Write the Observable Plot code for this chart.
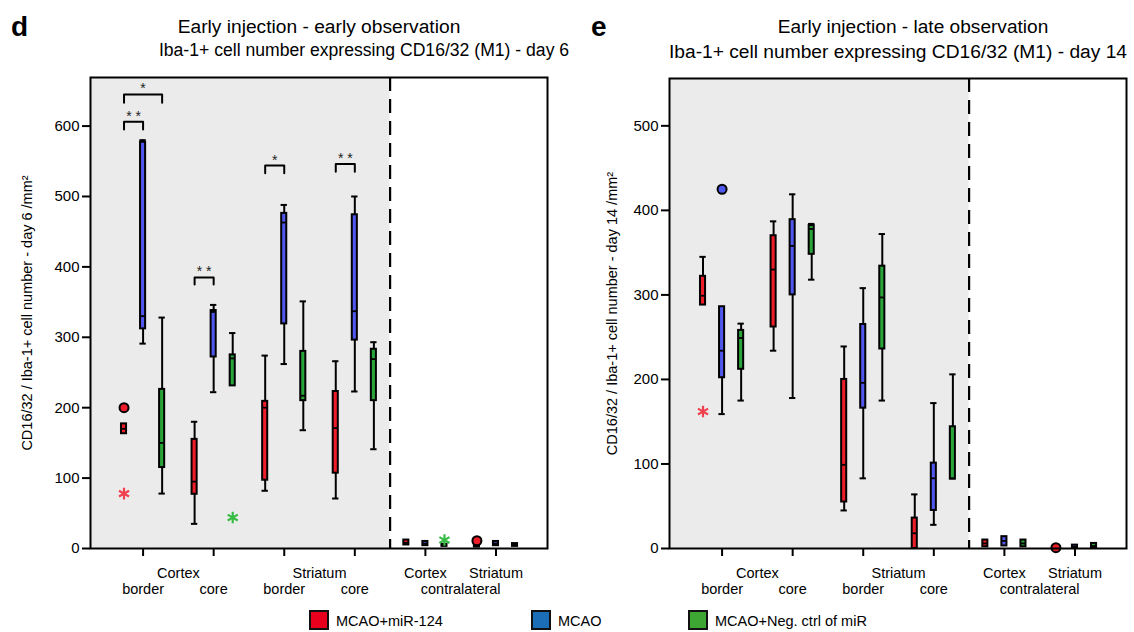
<!DOCTYPE html>
<html><head><meta charset="utf-8">
<script src="https://cdn.jsdelivr.net/npm/d3@7"></script>
<script src="https://cdn.jsdelivr.net/npm/@observablehq/plot@0.6"></script>
<style>
body{margin:0;background:#fff;font-family:"Liberation Sans",Arial,sans-serif;color:#000;}
#root{position:relative;width:1134px;height:632px;overflow:hidden;}
.abs{position:absolute;white-space:nowrap;line-height:1;}
.c{transform:translateX(-50%);}
.sw{position:absolute;width:16px;height:16px;border:2px solid #111;}
</style></head><body><div id="root"></div>
<script>
// ---------- data ----------
const groups = ["Cortex border","Cortex core","Striatum border","Striatum core","Cortex contralateral","Striatum contralateral"];
const treatments = ["MCAO+miR-124","MCAO","MCAO+Neg. ctrl of miR"];

// [group, treatment, whiskerLow, q1, median, q3, whiskerHigh]
const day6Boxes = [
  ["Cortex border","MCAO+miR-124", null,163,170,177,null],
  ["Cortex border","MCAO", 291,312,330,577,580],
  ["Cortex border","MCAO+Neg. ctrl of miR", 78,115,150,226,328],
  ["Cortex core","MCAO+miR-124", 35,77,95,155,180],
  ["Cortex core","MCAO", 222,272,336,338,346],
  ["Cortex core","MCAO+Neg. ctrl of miR", null,231,270,275,306],
  ["Striatum border","MCAO+miR-124", 82,97,200,209,274],
  ["Striatum border","MCAO", 262,319,463,476,488],
  ["Striatum border","MCAO+Neg. ctrl of miR", 168,210,217,280,351],
  ["Striatum core","MCAO+miR-124", 71,107,171,223,266],
  ["Striatum core","MCAO", 223,296,337,474,500],
  ["Striatum core","MCAO+Neg. ctrl of miR", 141,210,269,283,293],
  ["Cortex contralateral","MCAO+miR-124", null,5,8,12,null],
  ["Cortex contralateral","MCAO", null,4,7,10,null],
  ["Cortex contralateral","MCAO+Neg. ctrl of miR", null,3,5,6,null],
  ["Striatum contralateral","MCAO+miR-124", null,2,4,6,null],
  ["Striatum contralateral","MCAO", null,4,7,10,null],
  ["Striatum contralateral","MCAO+Neg. ctrl of miR", null,3,5,7,null]
];
const day6Outliers = [["Cortex border","MCAO+miR-124",200],["Striatum contralateral","MCAO+miR-124",11]];
const day6Stars = [["Cortex border","MCAO+miR-124",78],["Cortex core","MCAO+Neg. ctrl of miR",44],["Cortex contralateral","MCAO+Neg. ctrl of miR",12]];
// [group, from, to, top, bottom, label]
const day6Brackets = [
  ["Cortex border","MCAO+miR-124","MCAO",606,595,"* *"],
  ["Cortex border","MCAO+miR-124","MCAO+Neg. ctrl of miR",645,633,"*"],
  ["Cortex core","MCAO+miR-124","MCAO",385,375,"* *"],
  ["Striatum border","MCAO+miR-124","MCAO",544,533,"*"],
  ["Striatum core","MCAO+miR-124","MCAO",546,535,"* *"]
];
const day6Ticks = [0,100,200,300,400,500,600];

const day14Boxes = [
  ["Cortex border","MCAO+miR-124", null,288,299,322,345],
  ["Cortex border","MCAO", 159,202,234,286,null],
  ["Cortex border","MCAO+Neg. ctrl of miR", 175,212,249,258,266],
  ["Cortex core","MCAO+miR-124", 234,262,330,370,387],
  ["Cortex core","MCAO", 178,300,358,389,419],
  ["Cortex core","MCAO+Neg. ctrl of miR", 318,348,378,382,384],
  ["Striatum border","MCAO+miR-124", 45,55,99,200,239],
  ["Striatum border","MCAO", 83,166,196,265,308],
  ["Striatum border","MCAO+Neg. ctrl of miR", 175,236,297,334,372],
  ["Striatum core","MCAO+miR-124", null,0,18,36,64],
  ["Striatum core","MCAO", 28,45,83,101,172],
  ["Striatum core","MCAO+Neg. ctrl of miR", null,82,83,144,206],
  ["Cortex contralateral","MCAO+miR-124", null,2,6,10,null],
  ["Cortex contralateral","MCAO", null,3,9,14,null],
  ["Cortex contralateral","MCAO+Neg. ctrl of miR", null,2,6,10,null],
  ["Striatum contralateral","MCAO+miR-124", null,0,1,2,null],
  ["Striatum contralateral","MCAO", null,1,2,4,null],
  ["Striatum contralateral","MCAO+Neg. ctrl of miR", null,1,3,6,null]
];
const day14Outliers = [["Cortex border","MCAO",425],["Striatum contralateral","MCAO+miR-124",1]];
const day14Stars = [["Cortex border","MCAO+miR-124",162]];
const day14Brackets = [];
const day14Ticks = [0,100,200,300,400,500];

// axis text rows: [text, position (group index), row]
const xLabelRows = [
  ["Cortex",0.5,1],["Striatum",2.5,1],
  ["border",0,2],["core",1,2],["border",2,2],["core",3,2],
  ["Cortex",4,1],["Striatum",5,1],["contralateral",4.5,2]
];

// ---------- styling ----------
const boxColor = ["#ee1d2a","#5058ee","#2aa53a"];
const starColor = ["#f0414e","#5058ee","#36bb44"];
const legendColor = ["#e8001c","#1c6eb6","#3ea633"];
const dodge = [-0.27, 0, 0.27];
const xDomain = [-0.745, 5.73];
const split = 3.5;
const bw = 0.036, cw = 0.045;

function panel(o) {
  const ti = d => treatments.indexOf(d[1]);
  const pos = d => groups.indexOf(d[0]) + dodge[ti(d)];
  const hiW = o.boxes.filter(d => d[6] != null);
  const loW = o.boxes.filter(d => d[2] != null);
  const bpts = [];
  o.brackets.forEach((b, i) => {
    const g = groups.indexOf(b[0]);
    const xa = g + dodge[treatments.indexOf(b[1])], xb = g + dodge[treatments.indexOf(b[2])];
    bpts.push({id:i,x:xa,y:b[4]},{id:i,x:xa,y:b[3]},{id:i,x:xb,y:b[3]},{id:i,x:xb,y:b[4]});
  });
  return Plot.plot({
    width: 567, height: 600,
    marginLeft: o.ml, marginRight: 567 - o.ml - 457, marginTop: o.mt, marginBottom: 52,
    style: {fontFamily: "Liberation Sans, Arial, sans-serif", fontSize: "14px", color: "#000", background: "transparent", overflow: "visible"},
    x: {domain: xDomain, axis: null},
    y: {domain: [0, o.yMax], axis: null},
    marks: [
      Plot.rect([o.yMax], {x1: xDomain[0], x2: split, y1: 0, y2: d => d, fill: "#ebebeb"}),
      Plot.ruleX([split], {stroke: "#000", strokeWidth: 2.2, strokeDasharray: "14,8"}),
      Plot.ruleX(hiW, {x: pos, y1: d => d[5], y2: d => d[6], stroke: "#000", strokeWidth: 2}),
      Plot.ruleX(loW, {x: pos, y1: d => d[2], y2: d => d[3], stroke: "#000", strokeWidth: 2}),
      Plot.ruleY(hiW, {y: d => d[6], x1: d => pos(d) - cw, x2: d => pos(d) + cw, stroke: "#000", strokeWidth: 2}),
      Plot.ruleY(loW, {y: d => d[2], x1: d => pos(d) - cw, x2: d => pos(d) + cw, stroke: "#000", strokeWidth: 2}),
      Plot.rect(o.boxes, {x1: d => pos(d) - bw, x2: d => pos(d) + bw, y1: d => d[3], y2: d => d[5], fill: d => boxColor[ti(d)], stroke: "#000", strokeWidth: 2}),
      Plot.ruleY(o.boxes, {y: d => d[4], x1: d => pos(d) - bw, x2: d => pos(d) + bw, stroke: "#000", strokeWidth: 1.8}),
      Plot.dot(o.outliers, {x: pos, y: d => d[2], r: 4.5, fill: d => boxColor[ti(d)], stroke: "#000", strokeWidth: 2}),
      Plot.dot(o.stars, {x: pos, y: d => d[2], symbol: "asterisk", r: 5.5, stroke: d => starColor[ti(d)], strokeWidth: 2.2}),
      Plot.line(bpts, {x: "x", y: "y", z: "id", stroke: "#000", strokeWidth: 2, curve: "linear"}),
      Plot.text(o.brackets, {x: d => groups.indexOf(d[0]) + (dodge[treatments.indexOf(d[1])] + dodge[treatments.indexOf(d[2])]) / 2, y: d => d[3], text: d => d[5], lineAnchor: "bottom", dy: -1, fontSize: 14, fill: "#222"}),
      Plot.frame({stroke: "#000", strokeWidth: 2}),
      Plot.axisY({ticks: o.ticks, tickSize: 8, tickPadding: 3, fontSize: 15, label: null, strokeWidth: 2}),
      Plot.axisX({ticks: groups.map((g, i) => i), tickSize: 8, tickFormat: () => "", label: null, strokeWidth: 2}),
      Plot.text(xLabelRows, {x: d => d[1], text: d => d[0], frameAnchor: "bottom", lineAnchor: "bottom", fontSize: 14.5, filter: d => d[2] === 1, dy: 29}),
      Plot.text(xLabelRows, {x: d => d[1], text: d => d[0], frameAnchor: "bottom", lineAnchor: "bottom", fontSize: 14.5, filter: d => d[2] === 2, dy: 45}),
      Plot.text([o.yLabel], {frameAnchor: "left", dx: o.labelDx, rotate: -90, fontSize: 14.5, textAnchor: "middle", lineAnchor: "middle"})
    ]
  });
}

const root = document.getElementById("root");
function place(el, left, top) { el.style.position = "absolute"; el.style.left = left + "px"; el.style.top = top + "px"; root.appendChild(el); }

place(panel({boxes: day6Boxes, outliers: day6Outliers, stars: day6Stars, brackets: day6Brackets, yMax: 669, ticks: day6Ticks, ml: 90, mt: 77, labelDx: -63,
  yLabel: "CD16/32 / Iba-1+ cell number - day 6 /mm²"}), 0, 0);
place(panel({boxes: day14Boxes, outliers: day14Outliers, stars: day14Stars, brackets: day14Brackets, yMax: 556, ticks: day14Ticks, ml: 102, mt: 78, labelDx: -57,
  yLabel: "CD16/32 / Iba-1+ cell number - day 14 /mm²"}), 567, 0);

function txt(s, left, top, size, extra) {
  const d = document.createElement("div");
  d.className = "abs" + (extra || "");
  d.textContent = s;
  d.style.fontSize = size + "px";
  d.style.left = left + "px"; d.style.top = top + "px";
  root.appendChild(d);
  return d;
}
const titles = [
  ["d", "Early injection - early observation", "Iba-1+ cell number expressing CD16/32 (M1) - day 6"],
  ["e", "Early injection - late observation", "Iba-1+ cell number expressing CD16/32 (M1) - day 14"]
];
let t;
t = txt(titles[0][0], 11, 13, 28); t.style.fontWeight = "bold";
txt(titles[0][1], 319, 16.5, 19.2, " c");
txt(titles[0][2], 364, 41.5, 17.6, " c");
t = txt(titles[1][0], 591, 13, 28); t.style.fontWeight = "bold";
txt(titles[1][1], 913, 17, 19.1, " c");
txt(titles[1][2], 898, 42, 19.2, " c");

const legendX = [309, 531, 688];
treatments.forEach((name, i) => {
  const s = document.createElement("div");
  s.className = "sw"; s.style.background = legendColor[i];
  s.style.left = legendX[i] + "px"; s.style.top = "610px";
  root.appendChild(s);
  txt(name, legendX[i] + 27, 613.5, 14.5);
});
</script></body></html>
